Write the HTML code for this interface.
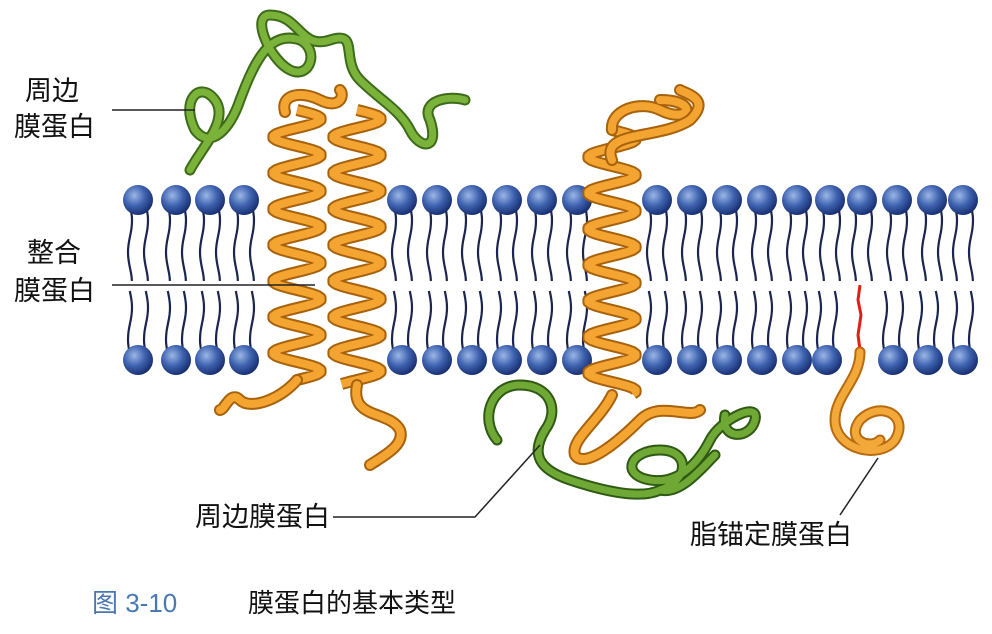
<!DOCTYPE html>
<html><head><meta charset="utf-8"><style>
html,body{margin:0;padding:0;background:#fff}
svg{display:block}
text{font-family:"Liberation Sans","Noto Sans CJK SC",sans-serif}
</style></head><body>
<svg id="fig" width="992" height="634" viewBox="0 0 992 634">
<defs>
<radialGradient id="hg" cx="0.38" cy="0.35" r="0.7">
<stop offset="0" stop-color="#9bb6e6"/><stop offset="0.5" stop-color="#3f63b0"/><stop offset="1" stop-color="#14296a"/>
</radialGradient>
</defs>
<g id="tails"></g>
<g id="heads"></g>
<g id="prot">
<path d="M195 130 C180 100,200 80,215 100 C230 120,200 150,190 170 M195 130 C210 150,230 130,240 100 C255 60,270 30,300 40 C320 50,310 80,290 70 C270 60,250 15,270 15 C300 15,300 50,330 40 C360 30,340 60,360 80 C380 100,400 110,410 130 C420 150,440 150,430 120 C420 100,450 95,465 100" fill="none" stroke="#3d6b1a" stroke-width="11" stroke-linecap="round"/>
<path d="M195 130 C180 100,200 80,215 100 C230 120,200 150,190 170 M195 130 C210 150,230 130,240 100 C255 60,270 30,300 40 C320 50,310 80,290 70 C270 60,250 15,270 15 C300 15,300 50,330 40 C360 30,340 60,360 80 C380 100,400 110,410 130 C420 150,440 150,430 120 C420 100,450 95,465 100" fill="none" stroke="#7ab23a" stroke-width="7" stroke-linecap="round"/>
<path d="M497 440 C480 420,490 385,520 385 C550 385,560 410,545 430 C530 455,540 470,570 480 C600 490,640 500,660 490 C690 480,690 450,660 450 C630 450,620 475,650 480 C680 485,700 460,710 440 C720 420,760 400,755 420 C750 440,720 440,725 415 M660 490 C680 495,700 470,715 455" fill="none" stroke="#2f5a14" stroke-width="11" stroke-linecap="round"/>
<path d="M497 440 C480 420,490 385,520 385 C550 385,560 410,545 430 C530 455,540 470,570 480 C600 490,640 500,660 490 C690 480,690 450,660 450 C630 450,620 475,650 480 C680 485,700 460,710 440 C720 420,760 400,755 420 C750 440,720 440,725 415 M660 490 C680 495,700 470,715 455" fill="none" stroke="#6fa834" stroke-width="7" stroke-linecap="round"/>
<g id="helices"></g>
<path d="M860 285 L858 300 L861 315 L858 335 L860 350" fill="none" stroke="#e02010" stroke-width="3"/>
<path d="M860 352 C860 380,835 395,835 420 C835 450,880 460,895 440 C910 415,880 400,860 420 C845 440,870 450,880 440" fill="none" stroke="#b86a10" stroke-width="11" stroke-linecap="round"/>
<path d="M860 352 C860 380,835 395,835 420 C835 450,880 460,895 440 C910 415,880 400,860 420 C845 440,870 450,880 440" fill="none" stroke="#f3a93a" stroke-width="7" stroke-linecap="round"/>
</g>
<g font-size="27" fill="#111">
<text x="25" y="100">周边</text>
<text x="14" y="136">膜蛋白</text>
<line x1="112" y1="110" x2="195" y2="110" stroke="#222" stroke-width="1.5"/>
<text x="27" y="262">整合</text>
<text x="14" y="300">膜蛋白</text>
<line x1="112" y1="285" x2="315" y2="285" stroke="#222" stroke-width="1.5"/>
<text x="195" y="526">周边膜蛋白</text>
<polyline points="333,517 475,517 540,445" fill="none" stroke="#222" stroke-width="1.5"/>
<text x="690" y="544">脂锚定膜蛋白</text>
<line x1="840" y1="515" x2="878" y2="458" stroke="#222" stroke-width="1.5"/>
<text x="92" y="612" font-size="26" fill="#4a78b0">图 3-10</text>
<text x="248" y="612" font-size="26" fill="#111">膜蛋白的基本类型</text>
</g>
</svg>
<script>
const topHeads=[138,176,210,244,402,437,472,507,542,577,657,692,727,762,797,830,862,897,932,963];
const bottomHeads=[138,176,210,244,402,437,472,507,542,577,657,692,727,762,797,827,893,928,963];
const helixCenters=[297,357,612];
const helixTop=[110,110,130];
const helixBottom=[380,385,395];
const NS="http://www.w3.org/2000/svg";
const tails=document.getElementById('tails'),heads=document.getElementById('heads'),hel=document.getElementById('helices');
function wave(x,y1,y2){let d='M'+x+' '+y1;for(let y=y1;(y1<y2?y<=y2:y>=y2);y+=(y1<y2?4:-4)){d+=' L'+(x+2*Math.sin((y-y1)/10)).toFixed(1)+' '+y;}return d;}
function addTail(x,y1,y2){
const p=document.createElementNS(NS,'path');p.setAttribute('d',wave(x,y1,y2));p.setAttribute('fill','none');p.setAttribute('stroke','#1c2550');p.setAttribute('stroke-width','2.2');


tails.appendChild(p);}
function addHead(x,y){
const c=document.createElementNS(NS,'circle');c.setAttribute('cx',x);c.setAttribute('cy',y);c.setAttribute('r',15);c.setAttribute('fill','url(#hg)');


heads.appendChild(c);}
topHeads.forEach(x=>{addTail(x-8,205,282);addTail(x+8,205,282);addHead(x,200);});
bottomHeads.forEach(x=>{addTail(x-8,355,290);addTail(x+8,355,290);addHead(x,360);});
helixCenters.forEach((cx,i)=>{
let d='';const t0=helixTop[i],t1=helixBottom[i];
for(let y=t0;y<=t1;y+=2){const x=cx+24*Math.sin((y-t0)*2*Math.PI/36);d+=(d?' L':'M')+x.toFixed(1)+' '+y;}
[['#a8620c',12],['#f4a531',8]].forEach(s=>{
const p=document.createElementNS(NS,'path');p.setAttribute('d',d);p.setAttribute('fill','none');p.setAttribute('stroke',s[0]);p.setAttribute('stroke-width',s[1]);p.setAttribute('stroke-linejoin','round');


hel.appendChild(p);});
});
// orange loops of integral proteins
const loops=["M285 112 C280 95,300 90,320 100 C340 110,345 95,340 90","M297 380 C280 400,250 410,240 400 C230 390,225 410,220 410","M357 385 C350 420,390 410,400 430 C405 445,385 455,370 465","M612 130 C610 110,640 100,660 110 C690 125,700 100,660 100","M612 395 C600 420,570 440,575 455 C585 470,620 440,640 420 C660 400,690 420,700 410","M612 160 C600 130,660 140,690 120 C710 100,690 95,680 90"];
loops.forEach(d=>{[['#a8620c',12],['#f4a531',8]].forEach(s=>{
const p=document.createElementNS(NS,'path');p.setAttribute('d',d);p.setAttribute('fill','none');p.setAttribute('stroke',s[0]);p.setAttribute('stroke-width',s[1]);p.setAttribute('stroke-linecap','round');


hel.appendChild(p);});});
</script>
</body></html>
